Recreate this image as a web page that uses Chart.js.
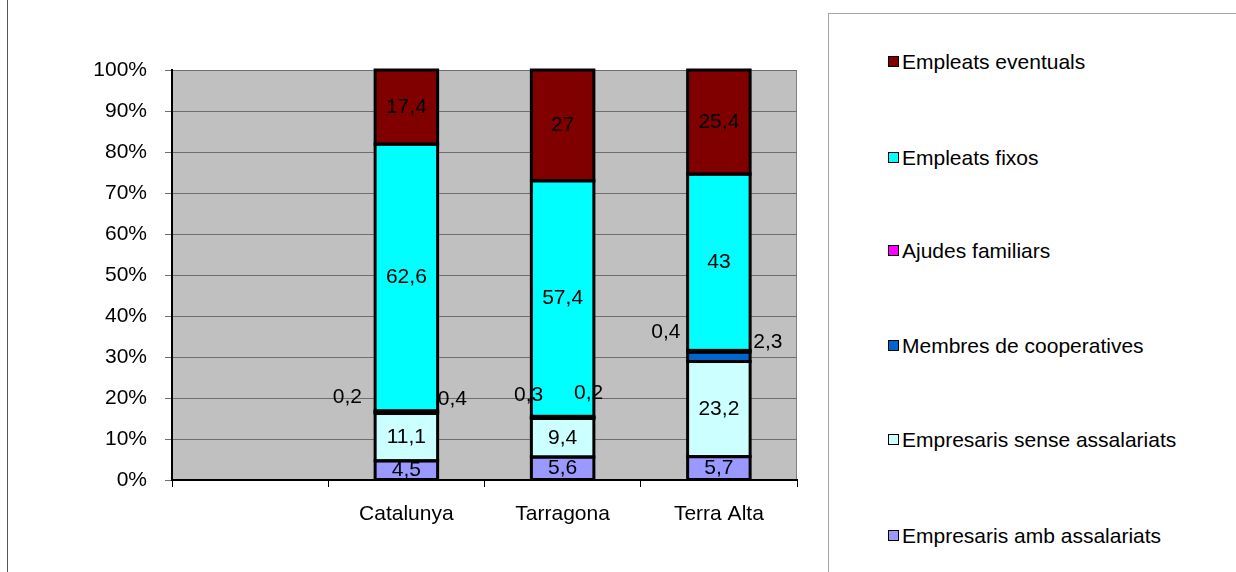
<!DOCTYPE html>
<html>
<head>
<meta charset="utf-8">
<script src="https://cdn.jsdelivr.net/npm/chart.js@4/dist/chart.umd.min.js"></script>
<style>
  html, body { margin: 0; padding: 0; background: #fff; }
  body { width: 1236px; height: 572px; position: relative; overflow: hidden; font-family: "Liberation Sans", Arial, sans-serif; }
  #frame { position: absolute; left: 7px; top: 0; width: 1px; height: 572px; background: #555; }
  #wrap { position: absolute; left: 0; top: 0; width: 828px; height: 572px; }
  #legend { position: absolute; left: 828px; top: 13px; width: 420px; height: 580px; border: 1px solid #a6a6a6; box-sizing: border-box; }
  .item { position: absolute; left: 59px; height: 24px; line-height: 24px; font-size: 21px; color: #000; white-space: nowrap; }
  .item span.box { display: inline-block; width: 9px; height: 9px; border: 1.5px solid #000; vertical-align: middle; margin-right: 3px; position: relative; top: -2px; }
</style>
</head>
<body>
<div id="frame"></div>
<div id="wrap"><canvas id="c" width="828" height="572"></canvas></div>
<div id="legend"></div>
<script>
// ---- data ----
const categories = ['', 'Catalunya', 'Tarragona', 'Terra Alta'];
const seriesNames = ['Empresaris amb assalariats', 'Empresaris sense assalariats', 'Membres de cooperatives', 'Ajudes familiars', 'Empleats fixos', 'Empleats eventuals'];
const empresarisAmb   = [null, 4.5, 5.6, 5.7];
const empresarisSense = [null, 11.1, 9.4, 23.2];
const cooperatives    = [null, 0.4, 0.2, 2.3];
const ajudes          = [null, 0.2, 0.3, 0.4];
const fixos           = [null, 62.6, 57.4, 43];
const eventuals       = [null, 17.4, 27, 25.4];
const yTickLabels = ['0%', '10%', '20%', '30%', '40%', '50%', '60%', '70%', '80%', '90%', '100%'];
const seriesColors = ['#9999FF', '#CCFFFF', '#0066CC', '#FF00FF', '#00FFFF', '#800000'];

const rawSeries = [empresarisAmb, empresarisSense, cooperatives, ajudes, fixos, eventuals];
const totals = categories.map((_, i) => rawSeries.reduce((s, arr) => s + (arr[i] || 0), 0));
const pct = rawSeries.map(arr => arr.map((v, i) => v == null ? null : v / totals[i] * 100));

// label nudges for thin segments (dataset index -> per-category offsets in px)
const nudges = {
  2: [null, {dx: 46, dy: -13}, {dx: 26, dy: -25}, {dx: 49, dy: -15}],
  3: [null, {dx: -59, dy: -14}, {dx: -34, dy: -22}, {dx: -53, dy: -19}]
};

const fmt = v => String(v).replace('.', ',');
const FONT = '"Liberation Sans", Arial, sans-serif';

const plotBg = {
  id: 'plotBg',
  beforeDraw(chart) {
    const {ctx, chartArea: a} = chart;
    ctx.save();
    ctx.fillStyle = '#C0C0C0';
    ctx.fillRect(a.left, a.top, a.right - a.left, a.bottom - a.top);
    ctx.strokeStyle = '#808080';
    ctx.lineWidth = 1;
    ctx.beginPath();
    ctx.moveTo(a.left, a.top + 0.5); ctx.lineTo(a.right - 0.5, a.top + 0.5); ctx.lineTo(a.right - 0.5, a.bottom);
    ctx.stroke();
    ctx.restore();
  },
  afterDatasetsDraw(chart) {
    const {ctx} = chart;
    ctx.save();
    // outlines centered on segment edges
    ctx.strokeStyle = '#000';
    ctx.lineWidth = 3;
    chart.data.datasets.forEach((ds, di) => {
      chart.getDatasetMeta(di).data.forEach((el, i) => {
        if (rawSeries[di][i] == null) return;
        const x0 = el.x - el.width / 2, top = Math.min(el.y, el.base), h = Math.abs(el.base - el.y);
        ctx.strokeRect(x0, top, el.width, h);
      });
    });
    ctx.font = '21px ' + FONT;
    ctx.fillStyle = '#000';
    ctx.textAlign = 'center';
    ctx.textBaseline = 'middle';
    chart.data.datasets.forEach((ds, di) => {
      const meta = chart.getDatasetMeta(di);
      meta.data.forEach((el, i) => {
        const v = rawSeries[di][i];
        if (v == null) return;
        const cy = (el.y + el.base) / 2;
        let x = el.x, y = cy;
        if (nudges[di] && nudges[di][i]) { x += nudges[di][i].dx; y += nudges[di][i].dy; }
        ctx.fillText(fmt(v), x, y);
      });
    });
    ctx.restore();
  }
};

new Chart(document.getElementById('c'), {
  type: 'bar',
  data: {
    labels: categories,
    datasets: seriesNames.map((n, i) => ({
      label: n,
      data: pct[i],
      backgroundColor: seriesColors[i],
      borderWidth: 0,
      barPercentage: 0.4,
      categoryPercentage: 1
    }))
  },
  options: {
    responsive: false,
    animation: false,
    layout: { padding: { left: 0, top: 70, right: 31, bottom: 0 } },
    plugins: { legend: { display: false }, tooltip: { enabled: false } },
    scales: {
      x: {
        stacked: true,
        offset: true,
        grid: { offset: true, drawOnChartArea: false, drawTicks: true, tickLength: 7, color: '#000' },
        border: { display: true, color: '#000', width: 2 },
        ticks: { color: '#000', font: { size: 21, family: FONT }, padding: 15, maxRotation: 0 },
        afterFit(s) { s.height = 92; }
      },
      y: {
        stacked: true,
        min: 0, max: 100,
        afterBuildTicks(s) { s.ticks = yTickLabels.map((t, i) => ({ value: i * 10 })); },
        grid: { color: '#6e6e6e', lineWidth: 1, tickLength: 7, drawTicks: true, tickColor: '#6e6e6e' },
        border: { display: true, color: '#000', width: 2 },
        ticks: { color: '#000', font: { size: 21, family: FONT }, padding: 18,
                 callback: (v, i) => yTickLabels[i] },
        afterFit(s) { s.width = 172; }
      }
    }
  },
  plugins: [plotBg]
});

// HTML legend (reversed order like the reference)
const legend = document.getElementById('legend');
const itemCenters = [61, 157, 250, 345, 439, 535];
seriesNames.slice().reverse().forEach((n, k) => {
  const idx = seriesNames.length - 1 - k;
  const d = document.createElement('div');
  d.className = 'item';
  d.style.top = (itemCenters[k] - 13 - 12) + 'px';
  d.innerHTML = '<span class="box" style="background:' + seriesColors[idx] + '"></span>' + n;
  legend.appendChild(d);
});
</script>
</body>
</html>
